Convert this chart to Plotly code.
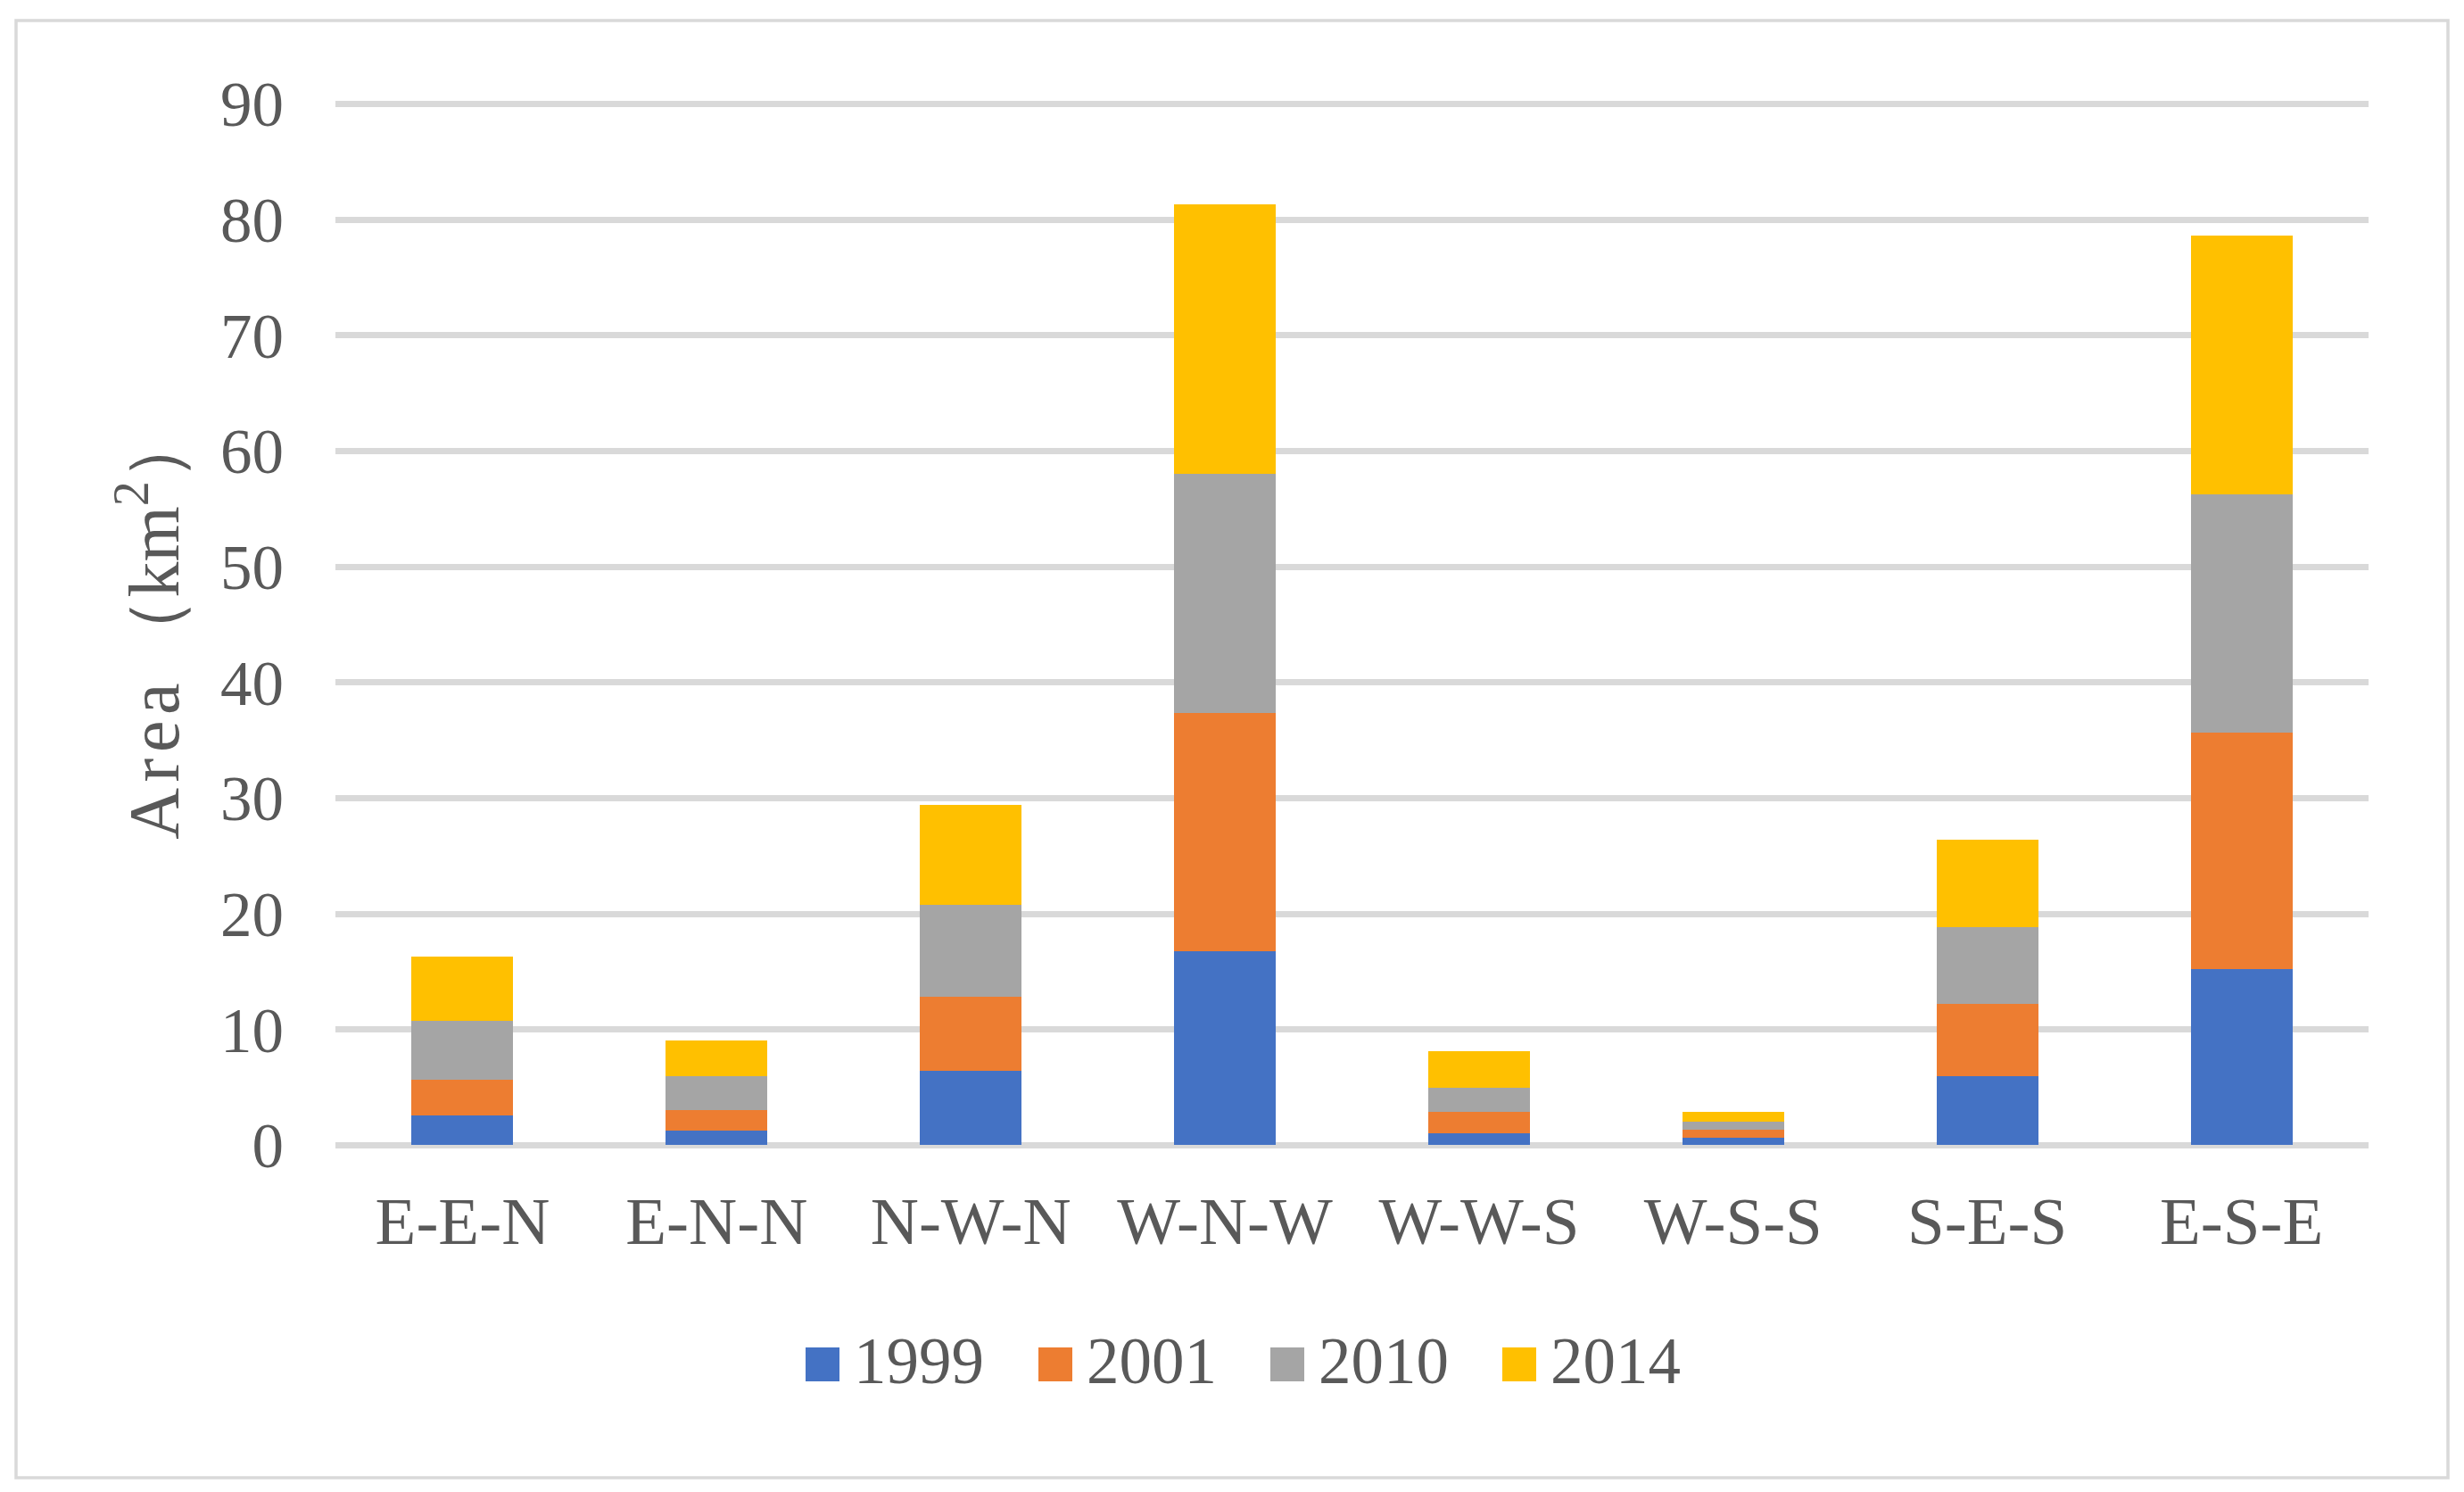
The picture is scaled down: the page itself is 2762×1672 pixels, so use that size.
import plotly.graph_objects as go

categories = ["E-E-N", "E-N-N", "N-W-N", "W-N-W", "W-W-S", "W-S-S", "S-E-S", "E-S-E"]
series_names = ["1999", "2001", "2010", "2014"]
v1999 = [2.56, 1.25, 6.41, 16.79, 1.02, 0.64, 5.95, 15.25]
v2001 = [3.08, 1.77, 6.46, 20.58, 1.85, 0.69, 6.30, 20.42]
v2010 = [5.08, 2.93, 7.92, 20.65, 2.08, 0.69, 6.62, 20.62]
v2014 = [5.61, 3.07, 8.62, 23.31, 3.15, 0.85, 7.54, 22.34]
colors = ["#4472C4", "#ED7D31", "#A5A5A5", "#FFC000"]
y_ticks = [0, 10, 20, 30, 40, 50, 60, 70, 80, 90]

W, H = 2762, 1672
L, R, T, B = 376, 107, 114, 386
PW, PH = W - L - R, H - T - B
FONT = "Liberation Serif, Times New Roman, serif"
TXT = "#595959"


def px_x(x):
    return (x - L) / PW


def px_y(y):
    return (H - B - y) / PH


fig = go.Figure()
for name, vals, col in zip(series_names, [v1999, v2001, v2010, v2014], colors):
    fig.add_trace(go.Bar(name=name, x=categories, y=vals, marker=dict(color=col, line=dict(width=0))))

fig.update_layout(
    width=W, height=H,
    barmode="stack", bargap=0.6,
    margin=dict(l=L, r=R, t=T, b=B),
    paper_bgcolor="white", plot_bgcolor="white",
    showlegend=False,
    font=dict(family=FONT, color=TXT),
)
fig.update_yaxes(
    range=[-0.2, 90.2], tickvals=y_ticks, showgrid=True, gridcolor="#D9D9D9", gridwidth=6.5,
    zeroline=False, showline=False, tickfont=dict(size=71, family=FONT, color=TXT),
    ticks="", ticklabelstandoff=57,
    title=dict(text="A\u200ar\u200ae\u200aa\u2009（km<sup>2</sup>）", font=dict(size=80, family=FONT, color=TXT), standoff=20),
)
fig.update_xaxes(
    showgrid=False, showline=False, ticks="", tickfont=dict(size=75, family=FONT, color=TXT),
    ticklabelstandoff=32,
)

# legend drawn manually to match the large square keys
leg_sq_left = [903, 1164, 1424, 1684]
sq = 38
leg_cy = 1529
for name, col, lx in zip(series_names, colors, leg_sq_left):
    fig.add_shape(type="rect", xref="paper", yref="paper",
                  x0=px_x(lx), x1=px_x(lx + sq), y0=px_y(leg_cy - sq / 2), y1=px_y(leg_cy + sq / 2),
                  fillcolor=col, line=dict(width=0))
    fig.add_annotation(xref="paper", yref="paper", x=px_x(lx + sq + 14), y=px_y(leg_cy - 4),
                       xanchor="left", yanchor="middle", text=name, showarrow=False,
                       font=dict(size=73, family=FONT, color=TXT))

# chart border
fig.add_shape(type="rect", xref="paper", yref="paper",
              x0=px_x(18), x1=px_x(2744), y0=px_y(23), y1=px_y(1656),
              line=dict(color="#D9D9D9", width=3.5), fillcolor="rgba(0,0,0,0)", layer="below")

fig.write_html(
    "out.html",
    config={"displayModeBar": False},
    post_script="document.body.style.margin='0';document.body.style.overflow='hidden';",
)
